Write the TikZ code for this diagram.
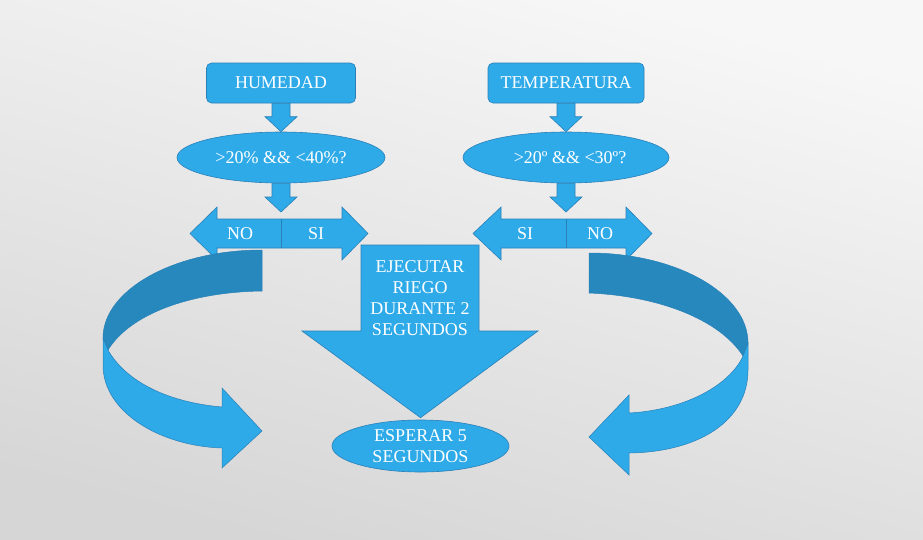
\documentclass[tikz,border=0pt]{standalone}
\usepackage{fontspec}
\setmainfont{Liberation Serif}
\usetikzlibrary{shapes.geometric}
\usetikzlibrary{calc}
\definecolor{boxblue}{RGB}{47,170,233}
\definecolor{edgeblue}{RGB}{40,128,183}
\definecolor{bandblue}{RGB}{38,136,188}
\newcommand{\blockdown}[2]{%
  \draw[blk] ($#1+(-9,0)$) -- ($#1+(9,0)$) -- ($#2+(9,-15)$) -- ($#2+(16,-15)$) -- #2
    -- ($#2+(-16,-15)$) -- ($#2+(-9,-15)$) -- cycle;}
\begin{document}
\begin{tikzpicture}[x=1pt,y=-1pt,
    txt/.style={text=white,font=\fontsize{18}{21}\selectfont},
    blk/.style={fill=boxblue,draw=edgeblue,line width=0.6pt,line join=miter},
    band/.style={fill=bandblue,draw=edgeblue,line width=0.5pt}]
  \shade[top color=black!3, bottom color=black!16, shading angle=-15] (0,0) rectangle (923,539);
  \useasboundingbox (0,0) rectangle (923,539);

  \begin{scope}[every node/.style={txt,fill=boxblue,draw=edgeblue,line width=0.6pt,inner sep=0pt}]
    \node[rounded corners=5pt,minimum width=149pt,minimum height=40pt] (hum) at (281,83) {HUMEDAD};
    \node[rounded corners=5pt,minimum width=156pt,minimum height=40pt] (temp) at (566,83) {TEMPERATURA};
    \node[ellipse,minimum width=208pt,minimum height=51pt] (qhum) at (281,157.5) {>20\% \&\& <40\%?};
    \node[ellipse,minimum width=206pt,minimum height=51pt] (qtemp) at (566,157.5) {\hspace{8pt}>20º \&\& <30º?};
    \node[ellipse,minimum width=177pt,minimum height=52pt,align=center] (esperar) at (420.5,446) {ESPERAR 5\\SEGUNDOS};
  \end{scope}

  \coordinate (lr1) at (281,212);
  \coordinate (lr2) at (566,212);
  \blockdown{(hum.south)}{(qhum.north)}
  \blockdown{(temp.south)}{(qtemp.north)}
  \blockdown{(qhum.south)}{(lr1)}
  \blockdown{(qtemp.south)}{(lr2)}

  % NO / SI
  \draw[blk] (190,233.5) -- (217,207) -- (217,219) -- (342,219) -- (342,207) -- (368,233.5)
    -- (342,260) -- (342,248) -- (217,248) -- (217,260) -- cycle;
  \draw[edgeblue,line width=0.6pt] (281,219) -- (281,248);
  \draw[blk] (473,233.5) -- (501,207) -- (501,219) -- (626,219) -- (626,207) -- (652,233.5)
    -- (626,260) -- (626,248) -- (501,248) -- (501,260) -- cycle;
  \draw[edgeblue,line width=0.6pt] (566,219) -- (566,248);
  \begin{scope}[every node/.style={txt}]
    \node (no1) at (240,233.5) {NO};
    \node (si1) at (316,233.5) {SI};
    \node (si2) at (525,233.5) {SI};
    \node (no2) at (600,233.5) {NO};
  \end{scope}

  % riego
  \draw[blk] (361,245) -- (479,245) -- (479,331) -- (538,331) -- ($(esperar.north)+(0,-2)$)
    -- (302,331) -- (361,331) -- cycle;
  \node[txt,align=center] (riego) at (420,298.5) {EJECUTAR\\RIEGO\\DURANTE 2\\SEGUNDOS};

  % vueltas
  \draw[band] (262,250) -- (262,291) .. controls (190,292) and (130,314) .. (108,350)
    -- (103,338) .. controls (103,290) and (174,250) .. (262,250) -- cycle;
  \draw[blk,line width=0.5pt] (103,338) -- (103,365) .. controls (103,412) and (160,446) .. (222,448)
    -- (222,468) -- (262,431) -- (222,388) -- (222,407)
    .. controls (165,402) and (125,380) .. (108,350) -- cycle;
  \draw[band] (589,253) -- (589,293) .. controls (660,296) and (720,320) .. (743,356)
    -- (748,343) .. controls (748,294) and (677,253) .. (589,253) -- cycle;
  \draw[blk,line width=0.5pt] (748,343) -- (748,370) .. controls (748,420) and (700,452) .. (629,453)
    -- (629,475) -- (589,437) -- (629,395) -- (629,413)
    .. controls (685,410) and (730,385) .. (743,356) -- cycle;
\end{tikzpicture}
\end{document}
